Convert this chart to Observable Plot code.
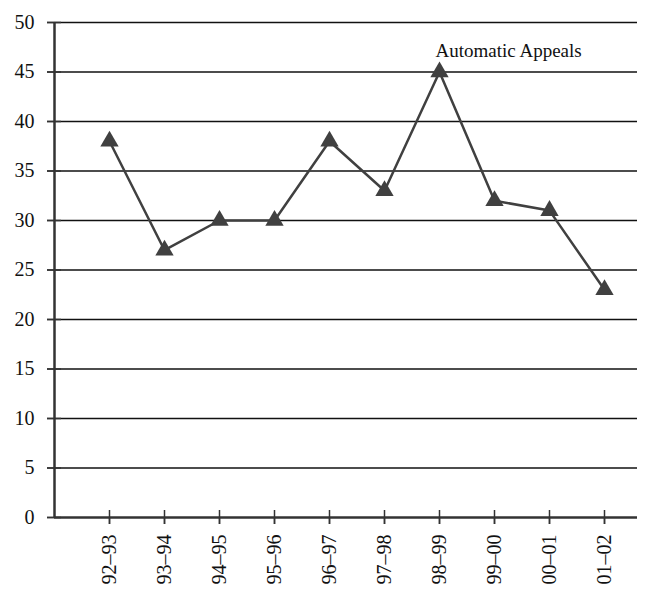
<!DOCTYPE html>
<html>
<head>
<meta charset="utf-8">
<script src="https://cdn.jsdelivr.net/npm/d3@7"></script>
<script src="https://cdn.jsdelivr.net/npm/@observablehq/plot@0.6"></script>
<style>
  html, body { margin: 0; padding: 0; background: #fff; }
  #chart svg { display: block; }
</style>
</head>
<body>
<div id="chart"></div>
<script>
const categories = ["92–93", "93–94", "94–95", "95–96", "96–97", "97–98", "98–99", "99–00", "00–01", "01–02"];
const values = [38, 27, 30, 30, 38, 33, 45, 32, 31, 23];
const seriesLabel = "Automatic Appeals";
const yTicks = [0, 5, 10, 15, 20, 25, 30, 35, 40, 45, 50];

const data = categories.map((c, i) => ({idx: i + 1, cat: c, value: values[i]}));
const peak = data.reduce((a, b) => (b.value > a.value ? b : a));
const xTicks = data.map(d => d.idx);

const font = "'Liberation Serif', 'Times New Roman', serif";
const ink = "#404040";

const chart = Plot.plot({
  width: 651,
  height: 590,
  marginLeft: 54,
  marginRight: 14,
  marginTop: 22,
  marginBottom: 73,
  style: {fontFamily: font, fontSize: "20px", color: "#111", background: "#fff"},
  x: {type: "linear", domain: [0, 10.6], axis: null},
  y: {domain: [0, 50], axis: null},
  marks: [
    Plot.ruleY(yTicks.filter(t => t > 0), {stroke: "#111", strokeWidth: 1.4}),
    Plot.axisY(yTicks, {tickSize: 7, tickPadding: 13, stroke: "#333", strokeWidth: 1.5, fontSize: 20, label: null}),
    Plot.ruleY(yTicks, {x1: 0, x2: 0, insetLeft: -7, insetRight: -7, stroke: "#333", strokeWidth: 1.5}),
    Plot.axisX(xTicks, {tickSize: 7, tickPadding: 10, tickRotate: -90, tickFormat: i => categories[i - 1], stroke: "#333", strokeWidth: 1.5, fontSize: 20, label: null}),
    Plot.ruleX(xTicks, {y1: 0, y2: 0, insetTop: -7, insetBottom: -7, stroke: "#333", strokeWidth: 1.5}),
    Plot.ruleX([0], {stroke: "#333", strokeWidth: 2.5}),
    Plot.ruleY([0], {stroke: "#333", strokeWidth: 2.5}),
    Plot.line(data, {x: "idx", y: "value", stroke: ink, strokeWidth: 2.5}),
    Plot.dot(data, {x: "idx", y: "value", symbol: "triangle", r: 6.8, fill: ink, stroke: "none"}),
    Plot.text([peak], {x: "idx", y: "value", text: () => seriesLabel, textAnchor: "start", lineAnchor: "bottom", dx: -4, dy: -15, fontSize: 19, fill: "#111"})
  ]
});
document.getElementById("chart").appendChild(chart);
</script>
</body>
</html>
